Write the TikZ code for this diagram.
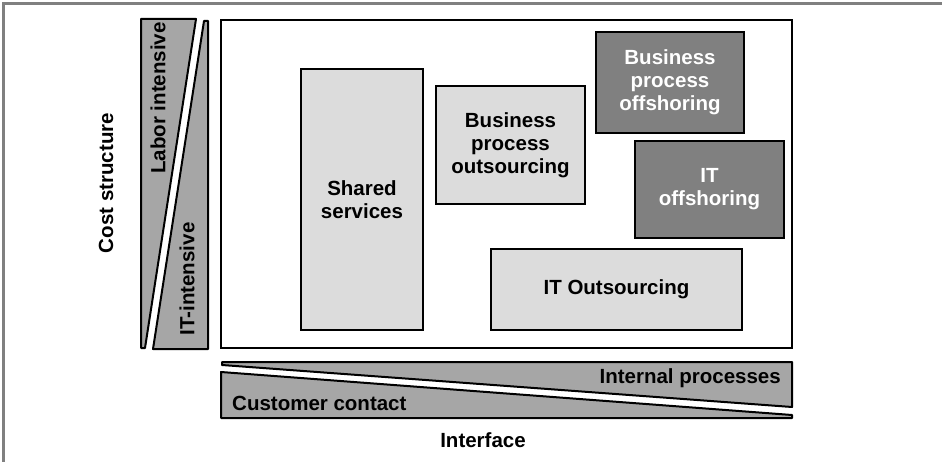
\documentclass[tikz,border=0pt]{standalone}
\usepackage{fontspec}
\setmainfont{Liberation Sans}
\begin{document}
\begin{tikzpicture}[x=1pt,y=-1pt,
  lbl/.style={font=\bfseries\fontsize{20.5}{23}\selectfont, inner sep=0pt, align=center},
  box/.style={lbl, draw=black, line width=2pt},
  lightbox/.style={box, fill=lightfill},
  darkbox/.style={box, fill=darkfill, text=white},
  wedge/.style={draw=black, line width=2pt, fill=barfill, line join=round},
  frameline/.style={draw=framegray, line width=3pt}
]
\definecolor{lightfill}{RGB}{220,220,220}
\definecolor{darkfill}{RGB}{128,128,128}
\definecolor{barfill}{RGB}{166,166,166}
\definecolor{framegray}{RGB}{128,128,128}

\useasboundingbox (0,0) rectangle (942,462);

% window edge
\draw[frameline] (3,462) -- (3,4) -- (942,4);

% main field
\draw[line width=2pt] (221,20) rectangle (792,348);

% cost structure scale (two wedges)
\path[wedge] (141,19) -- (196,19) -- (145,348) -- (141,348) -- cycle;
\path[wedge] (204,21) -- (208,21) -- (208,349) -- (153,349) -- cycle;
\node[lbl, rotate=90] (labor) at (158,98) {Labor intensive};
\node[lbl, rotate=90] (itint) at (187,279) {IT-intensive};
\node[lbl, rotate=90] (cost) at (106,183) {Cost structure};

% interface scale (two wedges)
\path[wedge] (222,362) -- (792,362) -- (792,407) -- (222,365) -- cycle;
\path[wedge] (221,372) -- (792,415) -- (792,418) -- (221,418) -- cycle;
\node[lbl, anchor=east] (internal) at (781,378) {Internal processes};
\node[lbl, anchor=west] (customer) at (232,403) {Customer contact};
\node[lbl] (interface) at (483,440) {Interface};

% sourcing options
\node[lightbox, minimum width=122pt, minimum height=261pt] (ss) at (362,199.5) {Shared\\services};
\node[lightbox, minimum width=149pt, minimum height=118pt] (bpo) at (510.5,145) {Business\\process\\outsourcing};
\node[darkbox, minimum width=148pt, minimum height=101pt] (bpoff) at (670,82.5) {Business\\process\\offshoring};
\node[darkbox, minimum width=149pt, minimum height=97pt] (itoff) at (709.5,189.5) {IT\\offshoring};
\node[lightbox, minimum width=251pt, minimum height=81pt] (ito) at (616.5,289.5) {IT Outsourcing};
\end{tikzpicture}
\end{document}
